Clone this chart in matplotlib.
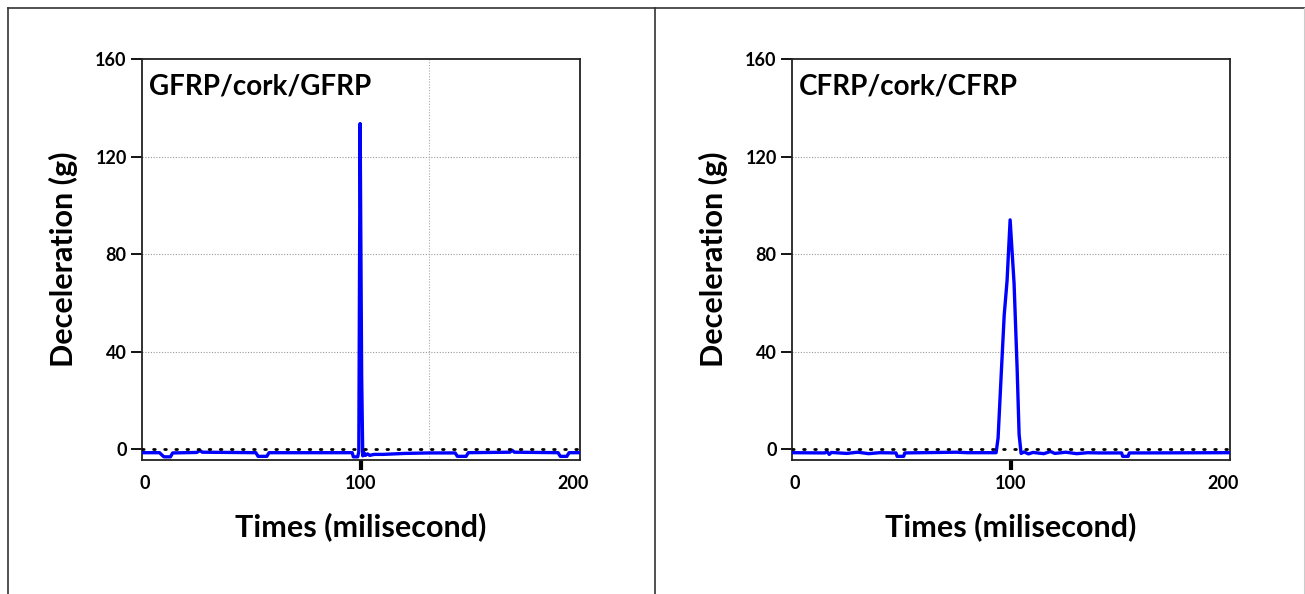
import matplotlib
matplotlib.use("Agg")
import matplotlib.pyplot as plt
from matplotlib.lines import Line2D
from matplotlib.transforms import ScaledTranslation

plt.rcParams['font.family'] = ['Lato', 'DejaVu Sans']
plt.rcParams['font.weight'] = 'bold'

# deceleration traces (time in ms, deceleration in g)
gfrp_time = [0, 8, 9.5, 10, 13, 14, 25, 26.5, 27.5, 52, 53, 57, 58, 96, 96.5,
             98.5, 99.0, 99.6, 100.3, 100.8, 101.5, 102, 103, 104, 106, 110,
             120, 131, 143, 144, 148, 149, 168, 169, 170, 190, 191, 194, 195, 200]
gfrp_decel = [-1.5, -1.5, -2.8, -3.2, -3.2, -1.6, -1.4, -0.6, -1.3, -1.5, -3.0,
              -3.0, -1.5, -1.5, -3.2, -3.2, -1.0, 133.5, 30, -2.8, -1.6, -2.6,
              -2.0, -2.6, -2.2, -2.2, -1.8, -1.6, -1.6, -3.0, -3.0, -1.5, -1.3,
              -0.5, -1.3, -1.5, -3.0, -3.0, -1.5, -1.5]

cfrp_time = [0, 15, 16, 17, 18, 25, 30, 35, 40, 47.5, 48, 51, 51.5, 75, 80, 93.2,
             94.1, 95.5, 96.9, 98.2, 99.6, 101.4, 102.8, 103.7, 104.6, 106, 108,
             110, 115, 118, 120, 125, 130, 135, 140, 150.5, 151, 153.5, 154, 200]
cfrp_decel = [-1.5, -1.6, -1.0, -2.2, -1.4, -1.8, -1.3, -1.9, -1.5, -1.6, -3.0,
              -3.0, -1.6, -1.3, -1.5, -1.5, 4.5, 30, 55, 69, 94, 68, 33, 6, -1.8,
              -1.2, -2.0, -1.4, -1.9, -1.0, -1.8, -1.3, -1.9, -1.5, -1.6, -1.6,
              -3.0, -3.0, -1.6, -1.5]

panels = [('GFRP/cork/GFRP', gfrp_time, gfrp_decel, 131),
          ('CFRP/cork/CFRP', cfrp_time, cfrp_decel, None)]

y_ticks = [0, 40, 80, 120, 160]
x_ticks = [0, 100, 200]

fig = plt.figure(figsize=(13.05, 5.94), dpi=100)

lefts = [142 / 1305, 792 / 1305]
for left, (name, t, d, vline) in zip(lefts, panels):
    ax = fig.add_axes([left, 1 - 460 / 594, 438 / 1305, 401 / 594])
    ax.set_xlim(0, 200)
    ax.set_ylim(-4.5, 160)

    for g in y_ticks[1:-1]:
        ax.axhline(g, color='#999999', lw=0.8, ls=(0, (1, 1.5)), zorder=1)
    if vline is not None:
        ax.axvline(vline, color='#aaaaaa', lw=0.8, ls=(0, (1, 1.5)), zorder=1)

    ax.plot(t, d, color='#0000ff', lw=2.4, zorder=3)
    ax.axhline(0, color='black', lw=2.0, ls=(0, (0.6, 3.4)),
               dash_capstyle='round', zorder=4)

    ax.text(0.015, 0.965, name, transform=ax.transAxes, fontsize=20,
            fontweight='bold', va='top', ha='left')

    ax.set_yticks(y_ticks)
    ax.set_xticks(x_ticks)
    ax.tick_params(axis='y', direction='out', length=8, width=1.3,
                   labelsize=13, pad=3)
    ax.tick_params(axis='x', direction='out', length=7, width=3,
                   labelsize=13, pad=4)
    xt = ax.xaxis.get_major_ticks()
    xt[0].tick1line.set_visible(False)
    xt[-1].tick1line.set_visible(False)
    for lab in ax.get_xticklabels() + ax.get_yticklabels():
        lab.set_fontweight('bold')
    # end labels sit slightly inside the axis ends
    xl = ax.get_xticklabels()
    xl[0].set_transform(xl[0].get_transform() +
                        ScaledTranslation(3 / 100, 0, fig.dpi_scale_trans))
    xl[-1].set_transform(xl[-1].get_transform() +
                         ScaledTranslation(-7 / 100, 0, fig.dpi_scale_trans))

    for sp in ax.spines.values():
        sp.set_linewidth(1.3)
        sp.set_color('#222222')

    ax.set_ylabel('Deceleration (g)', fontsize=22, fontweight='bold')
    ax.set_xlabel('Times (milisecond)', fontsize=22, fontweight='bold')
    ax.yaxis.set_label_coords(-0.145, 0.5)
    ax.xaxis.set_label_coords(0.5, -0.13)

# outer frame around both panels
W, H = 1305, 594
frame = [((7.5, 7.5), (0, H - 7.5)),
         ((7.5, W), (H - 7.5, H - 7.5)),
         ((655, 655), (0, H - 7.5))]
for xs, ys in frame:
    fig.add_artist(Line2D([x / W for x in xs], [y / H for y in ys],
                          color='#333333', lw=1.2))
fig.add_artist(Line2D([1304 / W, 1304 / W], [0, 1 - 7.5 / H],
                      color='#cccccc', lw=0.8))

fig.savefig('out.png', dpi=100)
